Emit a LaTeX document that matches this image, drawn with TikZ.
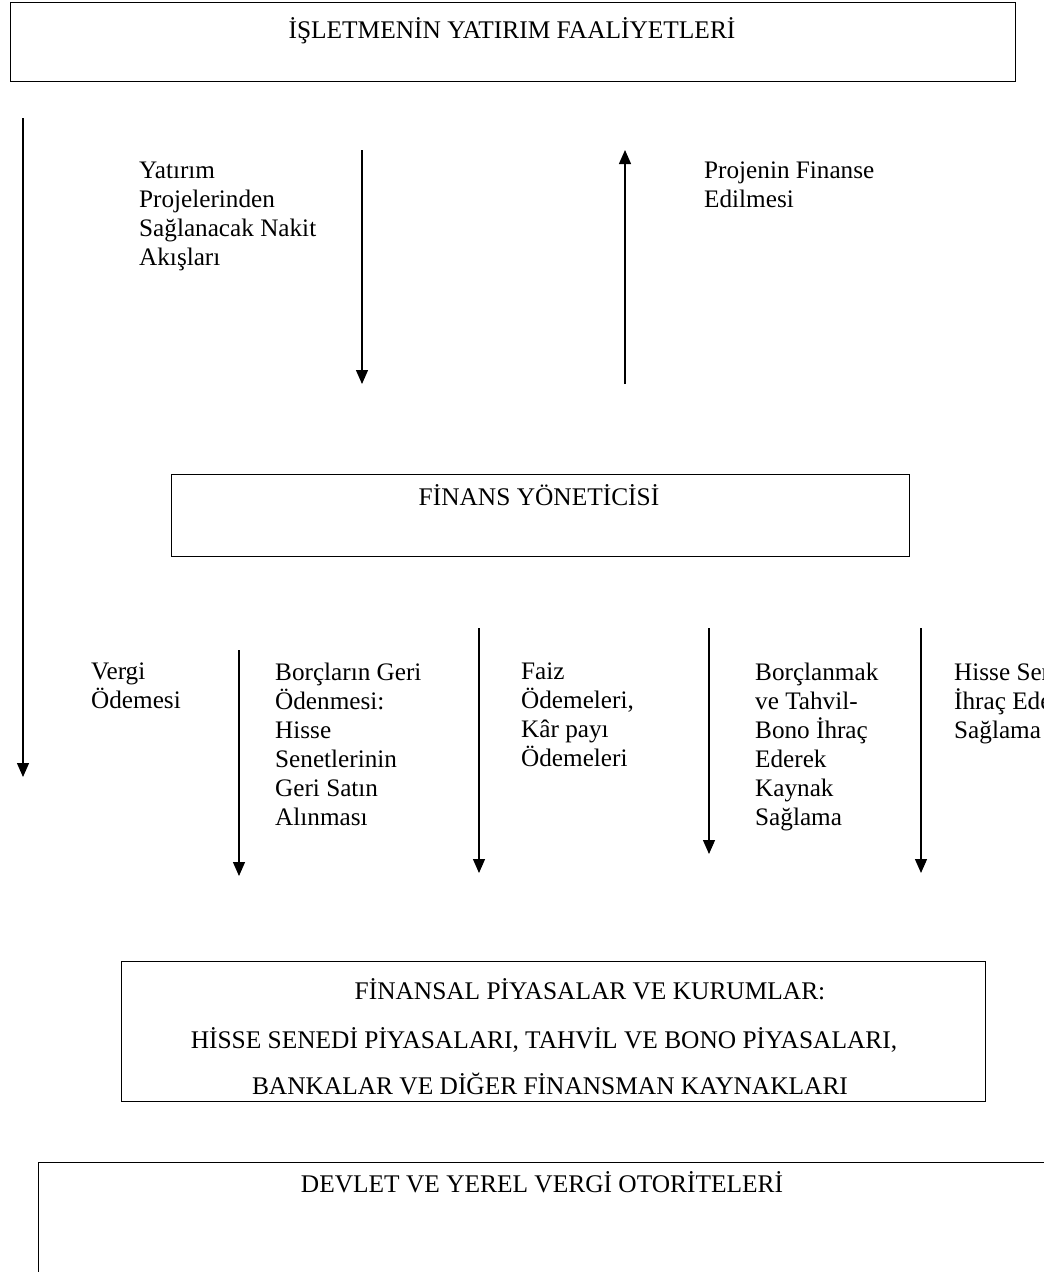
\documentclass[tikz,border=0pt]{standalone}
\usepackage{fontspec}
\setmainfont{Liberation Serif}
\usetikzlibrary{arrows.meta}
\begin{document}
\begin{tikzpicture}[x=1pt,y=-1pt,
  boxstyle/.style={draw, line width=1.2pt, inner sep=0pt, anchor=north west},
  flow/.style={-{Triangle[length=14pt,width=12pt]}, line width=1.3pt},
  lbl/.style={anchor=north west, align=left, inner sep=0pt,
    font=\fontsize{25.2}{29}\selectfont, execute at begin node={\rule{0pt}{20pt}}},
  captxt/.style={anchor=base, inner sep=0pt, font=\fontsize{25.4}{29}\selectfont}]
\useasboundingbox (0,0) rectangle (1044,1272);
\begin{scope}
\clip (0,0) rectangle (1044,1272);
% boxes
\node[boxstyle, minimum width=1005pt, minimum height=79pt] (topbox) at (10,2) {};
\node[captxt] (toptext) at (512,38) {İŞLETMENİN YATIRIM FAALİYETLERİ};
\node[boxstyle, minimum width=738pt, minimum height=82pt] (finbox) at (171,474) {};
\node[captxt] (fintext) at (539,505) {FİNANS YÖNETİCİSİ};
\node[boxstyle, minimum width=864pt, minimum height=140pt] (mktbox) at (121,961) {};
\node[captxt] (mkt1) at (590,999) {FİNANSAL PİYASALAR VE KURUMLAR:};
\node[captxt] (mkt2) at (544,1048) {HİSSE SENEDİ PİYASALARI, TAHVİL VE BONO PİYASALARI,};
\node[captxt] (mkt3) at (550,1094) {BANKALAR VE DİĞER FİNANSMAN KAYNAKLARI};
\node[boxstyle, minimum width=1020pt, minimum height=130pt] (taxbox) at (38,1162) {};
\node[captxt] (taxtext) at (542,1192) {DEVLET VE YEREL VERGİ OTORİTELERİ};
% upper labels (first baseline 182)
\node[lbl] (l1) at (139,162) {Yatırım\\Projelerinden\\Sağlanacak Nakit\\Akışları};
\node[lbl] (l2) at (704,162) {Projenin Finanse\\Edilmesi};
% lower labels (first baseline 683)
\node[lbl] (l3) at (91,663) {Vergi\\Ödemesi};
\node[lbl] (l4) at (275,663) {Borçların Geri\\Ödenmesi:\\Hisse\\Senetlerinin\\Geri Satın\\Alınması};
\node[lbl] (l5) at (521,663) {Faiz\\Ödemeleri,\\Kâr payı\\Ödemeleri};
\node[lbl] (l6) at (755,663) {Borçlanmak\\ve Tahvil-\\Bono İhraç\\Ederek\\Kaynak\\Sağlama};
\node[lbl] (l7) at (954,663) {Hisse Senedi\\İhraç Ederek\\Sağlama};
% arrow end points
\coordinate (a0s) at (23,118);  \coordinate (a0e) at (23,777);
\coordinate (a1s) at (362,150); \coordinate (a1e) at (362,384);
\coordinate (a2s) at (625,384); \coordinate (a2e) at (625,150);
\coordinate (a3s) at (239,650); \coordinate (a3e) at (239,876);
\coordinate (a4s) at (479,628); \coordinate (a4e) at (479,873);
\coordinate (a5s) at (709,628); \coordinate (a5e) at (709,854);
\coordinate (a6s) at (921,628); \coordinate (a6e) at (921,873);
\draw[flow] (a0s) -- (a0e);
\draw[flow] (a1s) -- (a1e);
\draw[flow] (a2s) -- (a2e);
\draw[flow] (a3s) -- (a3e);
\draw[flow] (a4s) -- (a4e);
\draw[flow] (a5s) -- (a5e);
\draw[flow] (a6s) -- (a6e);
\end{scope}
\end{tikzpicture}
\end{document}
